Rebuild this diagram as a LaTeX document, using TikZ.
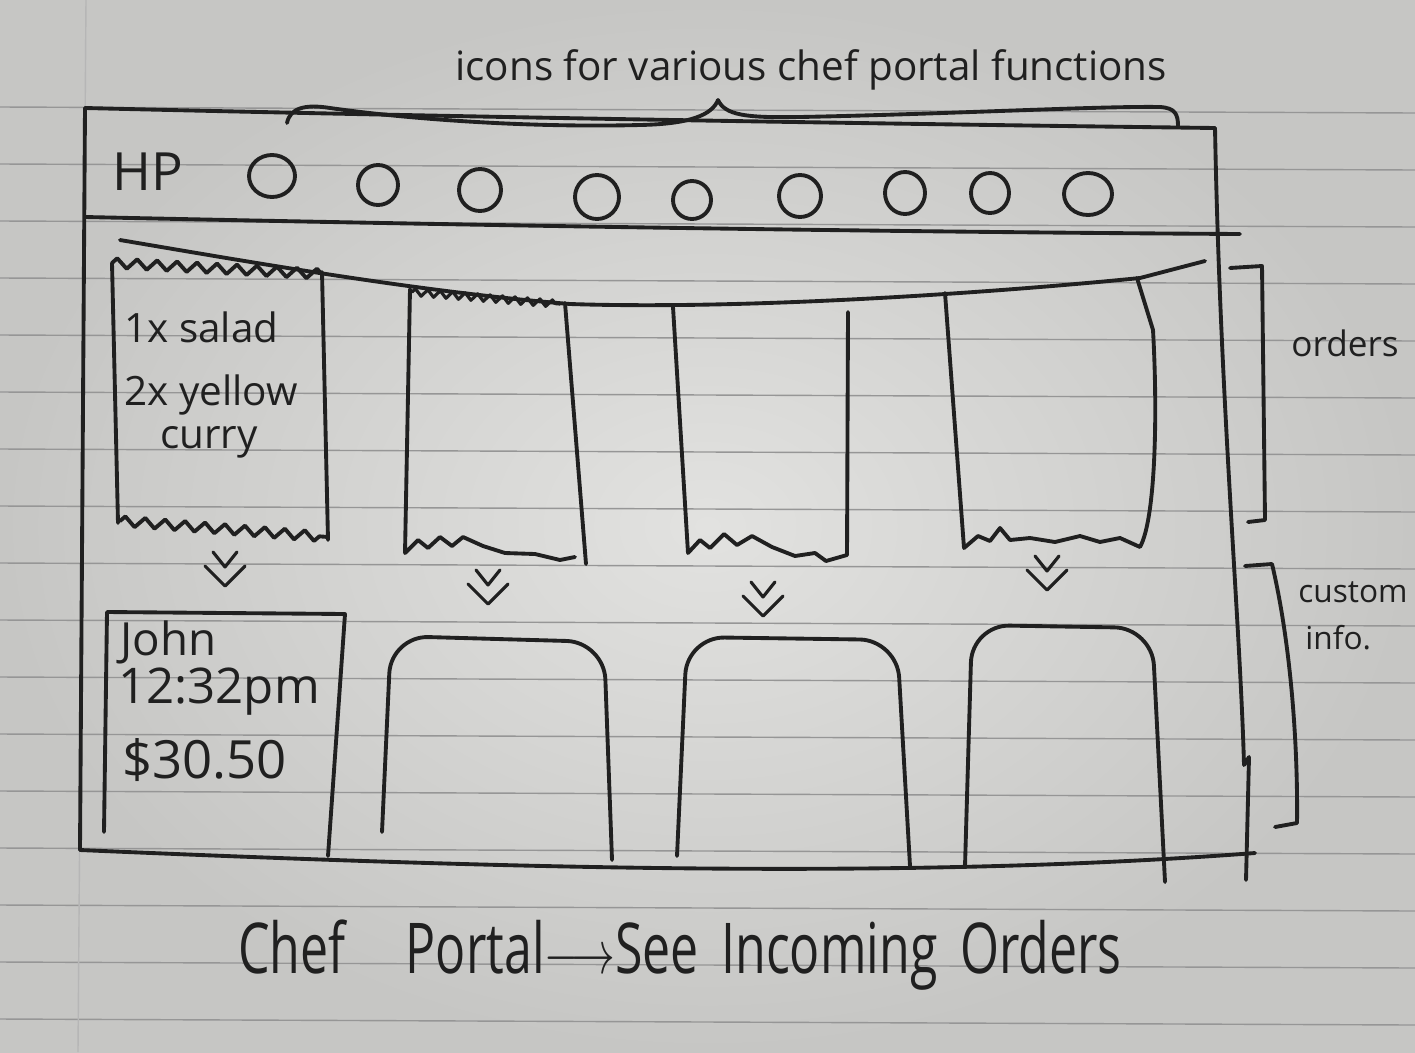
\documentclass[tikz,border=0pt]{standalone}
\usepackage{fontspec}
\setmainfont{Open Sans}
\usetikzlibrary{decorations.pathmorphing}

\definecolor{paper}{RGB}{226,226,224}
\definecolor{paperedge}{RGB}{198,198,196}
\definecolor{rulegray}{RGB}{150,150,150}
\definecolor{ink}{RGB}{32,32,32}

\tikzset{
  pen/.style={draw=ink, line width=2.2pt, line cap=round, line join=round},
  thinpen/.style={draw=ink, line width=1.8pt, line cap=round, line join=round},
  ruled/.style={draw=rulegray, line width=0.8pt},
  hand/.style={text=ink, inner sep=0pt},
  torn/.style={decorate, decoration={zigzag, segment length=0.4cm, amplitude=0.1cm}},
  dblv/.pic={
    \draw[thinpen] (-12,-20) -- (0,-5) -- (12,-20);
    \draw[thinpen] (-20,-6) -- (0,14) -- (20,-6);
  }
}

\begin{document}
\begin{tikzpicture}[x=0.02cm, y=-0.02cm]
    % papier
    \useasboundingbox (0,0) rectangle (1415,1052);
    \shade[inner color=paper, outer color=paperedge] (0,0) rectangle (1415,1052);
    \foreach \ly in {107,164,...,1050}
        \draw[ruled] (0,\ly) -- (1415,\ly+6);
    \draw[rulegray!70, line width=0.8pt] (86,0) -- (78,1052);

    % cadre
    \draw[pen] (85,108) .. controls (500,118) and (900,124) .. (1215,128);
    \draw[pen] (85,108) -- (80,850);
    \draw[pen] (1215,128) .. controls (1220,400) and (1240,620) .. (1244,765) -- (1249,757) -- (1246,880);
    \draw[pen] (85,217) .. controls (500,226) and (900,232) .. (1240,234);
    \draw[pen] (80,850) .. controls (500,868) and (900,880) .. (1255,853);

    % accolade du haut
    \draw[pen] (287,123) .. controls (290,108) and (305,104) .. (330,108)
        .. controls (400,118) and (520,128) .. (640,125)
        .. controls (690,124) and (712,115) .. (718,100)
        .. controls (725,115) and (745,118) .. (800,117)
        .. controls (950,114) and (1100,106) .. (1160,107)
        .. controls (1175,108) and (1178,114) .. (1178,126);
    \node[hand, anchor=west, font=\fontsize{23}{27}\selectfont] (icons) at (455,70) {icons for various chef portal functions};

    % en-tete
    \node[hand, font=\fontsize{30}{34}\selectfont] (hp) at (148,172) {HP};
    \foreach \cx/\cy/\rx/\ry in {272/176/23/21, 378/185/20/20, 480/190/21/21, 597/197/22/22, 692/200/19/19, 800/196/21/21, 905/193/20/21, 990/193/19/20, 1088/194/24/21}
        \draw[pen] (\cx,\cy) ellipse [x radius=\rx*0.02cm, y radius=\ry*0.02cm];

    % fil des commandes
    \draw[pen] (120,240) .. controls (250,262) and (420,292) .. (570,304)
        .. controls (750,310) and (1000,292) .. (1140,278) -- (1205,261);

    % tickets
    \draw[pen] (112,263) -- (118,523);
    \draw[pen] (322,272) -- (328,540);
    \draw[pen, torn] (112,263) -- (322,274);
    \draw[pen, torn] (120,521) -- (328,537);
    \node[hand, anchor=west, font=\fontsize{23}{27}\selectfont] (salad) at (124,327) {1x salad};
    \node[hand, anchor=west, font=\fontsize{23}{27}\selectfont] (yellow) at (124,395) {2x yellow};
    \node[hand, anchor=west, font=\fontsize{23}{27}\selectfont] (curry) at (160,442) {curry};

    \draw[pen] (410,289) -- (405,553) -- (418,540) -- (428,548) -- (440,537) -- (452,546) -- (463,537)
        -- (483,546) -- (505,553) -- (535,554) -- (560,560) -- (575,557);
    \draw[pen] (565,303) -- (586,564);
    \draw[thinpen, decorate, decoration={zigzag, segment length=0.25cm, amplitude=0.07cm}] (412,292) -- (560,304);

    \draw[pen] (673,307) -- (688,553) -- (700,540) -- (710,548) -- (724,534) -- (737,545) -- (752,536)
        -- (772,547) -- (795,556) -- (815,553) -- (826,561) -- (847,555) -- (848,312);

    \draw[pen] (945,293) -- (964,548) -- (978,536) -- (990,541) -- (1000,528) -- (1010,540) -- (1030,538)
        -- (1055,542) -- (1080,536) -- (1100,542) -- (1120,538) -- (1140,547)
        .. controls (1155,520) and (1158,420) .. (1153,330) -- (1137,278);

    % fleches
    \pic at (225,572) {dblv};
    \pic at (488,590) {dblv};
    \pic at (763,602) {dblv};
    \pic at (1047,576) {dblv};

    % infos client
    \draw[pen] (104,832) -- (107,612) -- (345,614) -- (328,856);
    \node[hand, anchor=west, font=\fontsize{26}{30}\selectfont] (john) at (120,642) {John};
    \node[hand, anchor=west, font=\fontsize{28}{32}\selectfont] (time) at (118,692) {12:32pm};
    \node[hand, anchor=west, font=\fontsize{30}{34}\selectfont] (price) at (122,760) {\$30.50};
    \draw[pen, rounded corners=0.75cm] (382,832) -- (391,636) -- (604,642) -- (612,860);
    \draw[pen, rounded corners=0.75cm] (677,856) -- (687,637) -- (897,640) -- (910,866);
    \draw[pen, rounded corners=0.75cm] (965,866) -- (972,625) -- (1152,628) -- (1165,882);

    % crochets de droite
    \draw[pen] (1230,268) -- (1262,266) -- (1265,520) -- (1248,522);
    \node[hand, font=\fontsize{20}{24}\selectfont] (orders) at (1345,343) {orders};
    \draw[pen] (1245,566) -- (1272,564) .. controls (1290,640) and (1298,740) .. (1297,823) -- (1275,827);
    \node[hand, anchor=west, font=\fontsize{18}{22}\selectfont] (custom) at (1298,592) {custom};
    \node[hand, anchor=west, font=\fontsize{18}{22}\selectfont] (info) at (1305,638) {info.};

    % titre
    \node[hand, font=\fontsize{28.5}{34}\selectfont] (caption) at (680,955)
        {\scalebox{1}[1.4]{Chef\hspace{1.2cm}Portal$\longrightarrow$See\hspace{0.45cm}Incoming\hspace{0.45cm}Orders}};
\end{tikzpicture}
\end{document}
